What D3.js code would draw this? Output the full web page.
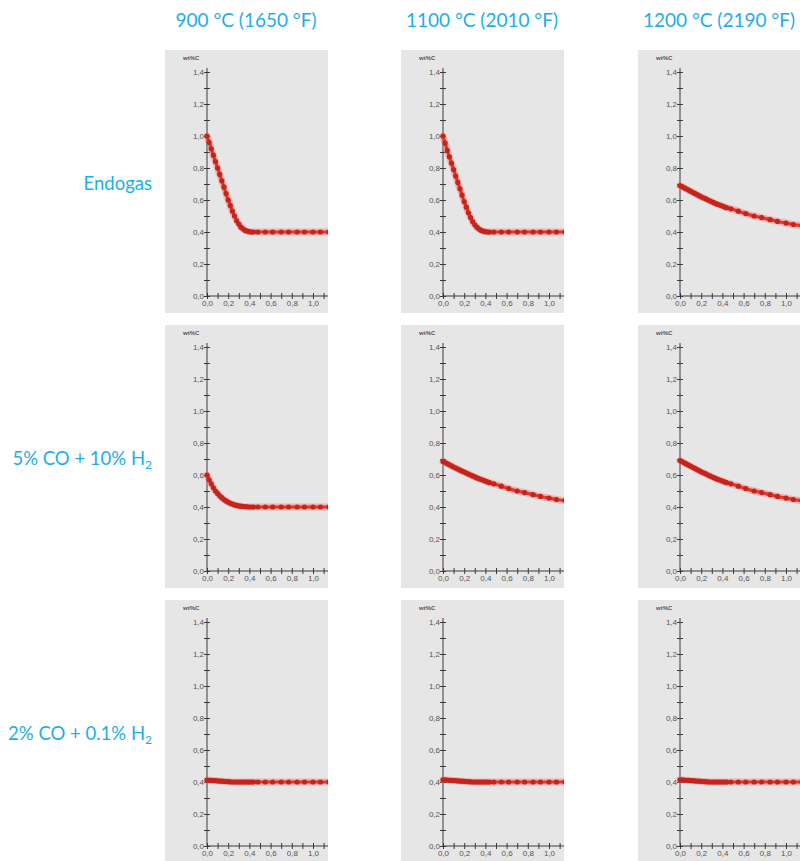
<!DOCTYPE html>
<html>
<head>
<meta charset="utf-8">
<script src="https://cdn.jsdelivr.net/npm/d3@7"></script>
<style>
  body { margin: 0; background: #fff; }
  svg { display: block; }
</style>
</head>
<body>
<div class="chart"></div>
<script>

// column and row titles
const columnTitles = ["900 °C (1650 °F)", "1100 °C (2010 °F)", "1200 °C (2190 °F)"];
const rowTitles = [["Endogas", ""], ["5% CO + 10% H", "2"], ["2% CO + 0.1% H", "2"]];

// depth below surface (mm) of the plotted points
const depth = [0.00,0.02,0.04,0.06,0.08,0.10,0.12,0.14,0.16,0.18,0.20,0.22,0.24,0.26,0.28,0.30,
               0.32,0.34,0.36,0.38,0.40,0.42,0.44,0.48,0.55,0.62,0.70,0.77,0.85,0.92,1.00,1.07,1.15];

// carbon content wt%C
const endo900  = [1.00,0.96,0.92,0.88,0.84,0.80,0.76,0.72,0.68,0.64,0.60,0.565,0.53,0.50,0.47,0.45,
                  0.43,0.42,0.41,0.405,0.402,0.40,0.40,0.40,0.40,0.40,0.40,0.40,0.40,0.40,0.40,0.40,0.40];
const endo1100 = [1.00,0.955,0.91,0.87,0.83,0.79,0.75,0.71,0.67,0.63,0.59,0.555,0.52,0.49,0.465,0.445,
                  0.43,0.418,0.41,0.405,0.402,0.40,0.40,0.40,0.40,0.40,0.40,0.40,0.40,0.40,0.40,0.40,0.40];
const endo1200 = [0.69,0.683,0.676,0.669,0.662,0.655,0.648,0.641,0.634,0.627,0.62,0.614,0.608,0.601,0.595,0.589,
                  0.583,0.577,0.572,0.567,0.562,0.557,0.552,0.545,0.53,0.515,0.50,0.49,0.477,0.466,0.456,0.447,0.44];
const co5_900  = [0.60,0.57,0.545,0.52,0.50,0.485,0.47,0.458,0.447,0.438,0.43,0.423,0.418,0.413,0.41,0.407,
                  0.405,0.403,0.402,0.401,0.40,0.40,0.40,0.40,0.40,0.40,0.40,0.40,0.40,0.40,0.40,0.40,0.40];
const co5_1100 = [0.685,0.678,0.671,0.664,0.657,0.650,0.643,0.637,0.630,0.624,0.618,0.612,0.606,0.600,0.594,0.588,
                  0.582,0.577,0.572,0.567,0.562,0.557,0.552,0.545,0.53,0.515,0.50,0.49,0.477,0.466,0.456,0.447,0.44];
const co5_1200 = [0.69,0.683,0.676,0.669,0.662,0.655,0.648,0.641,0.634,0.627,0.62,0.614,0.608,0.601,0.595,0.589,
                  0.583,0.577,0.572,0.567,0.562,0.557,0.552,0.545,0.53,0.515,0.50,0.49,0.477,0.466,0.456,0.447,0.44];
const co2_900  = [0.412,0.411,0.41,0.409,0.408,0.407,0.406,0.405,0.404,0.403,0.402,0.401,0.40,0.40,0.40,0.40,
                  0.40,0.40,0.40,0.40,0.40,0.40,0.40,0.40,0.40,0.40,0.40,0.40,0.40,0.40,0.40,0.40,0.40];
const co2_1100 = [0.414,0.413,0.412,0.411,0.41,0.409,0.408,0.407,0.406,0.405,0.404,0.403,0.402,0.401,0.40,0.40,
                  0.40,0.40,0.40,0.40,0.40,0.40,0.40,0.40,0.40,0.40,0.40,0.40,0.40,0.40,0.40,0.40,0.40];
const co2_1200 = [0.414,0.413,0.412,0.411,0.41,0.409,0.408,0.407,0.406,0.405,0.404,0.403,0.402,0.401,0.40,0.40,
                  0.40,0.40,0.40,0.40,0.40,0.40,0.40,0.40,0.40,0.40,0.40,0.40,0.40,0.40,0.40,0.40,0.40];

const grid = [
    [endo900, endo1100, endo1200],
    [co5_900, co5_1100, co5_1200],
    [co2_900, co2_1100, co2_1200]
];

// ticks
const yTicks = [0,0.1,0.2,0.3,0.4,0.5,0.6,0.7,0.8,0.9,1.0,1.1,1.2,1.3,1.4];
const yLabels = [0,0.2,0.4,0.6,0.8,1.0,1.2,1.4];
const xTicks = [0,0.1,0.2,0.3,0.4,0.5,0.6,0.7,0.8,0.9,1.0,1.1,1.2];
const xLabels = [0,0.2,0.4,0.6,0.8,1.0,1.2];

const width = 800, height = 861;
const panelX = [165, 401, 638];
const panelY = [50, 325, 600];
const panelW = 163, panelH = 263;
const blue = "#1eaee6";

const svg = d3.select(".chart")
    .append("svg")
    .attr("width", width)
    .attr("height", height);

const fmt = v => d3.format(".1f")(v).replace(".", ",");

// column titles
svg.selectAll(".coltitle")
    .data(columnTitles)
    .enter()
    .append("text")
    .attr("x", (d,i) => panelX[i] + 81)
    .attr("y", 27)
    .attr("text-anchor","middle")
    .attr("fill", blue)
    .style("font-family","Lato, 'Open Sans', sans-serif")
    .style("font-size","19px")
    .text(d => d);

// row titles
const rt = svg.selectAll(".rowtitle")
    .data(rowTitles)
    .enter()
    .append("text")
    .attr("x", 152)
    .attr("y", (d,i) => panelY[i] + 140)
    .attr("text-anchor","end")
    .attr("fill", blue)
    .style("font-family","Lato, 'Open Sans', sans-serif")
    .style("font-size","18.5px");

rt.append("tspan").text(d => d[0]);
rt.append("tspan")
    .attr("dy", 4)
    .style("font-size","12px")
    .text(d => d[1]);

const x = d3.scaleLinear().domain([0, 1]).range([0, 106]);
const y = d3.scaleLinear().domain([0, 1.4]).range([246, 22]);

const line = d3.line()
    .x((d,i) => x(depth[i]))
    .y(d => y(d))
    .curve(d3.curveMonotoneX);

grid.forEach((row, r) => {
    row.forEach((values, c) => {

        const id = "clip" + r + c;
        const w = Math.min(panelW, width - panelX[c]);
        const h = Math.min(panelH, height - panelY[r]);

        svg.append("clipPath")
            .attr("id", id)
            .append("rect")
            .attr("x", 0)
            .attr("y", 0)
            .attr("width", w)
            .attr("height", h);

        const g = svg.append("g")
            .attr("transform", `translate(${panelX[c]},${panelY[r]})`)
            .attr("clip-path", `url(#${id})`);

        g.append("rect")
            .attr("width", w)
            .attr("height", h)
            .attr("fill","#e6e6e6");

        const inner = g.append("g")
            .attr("transform", "translate(42,0)");

        // y axis
        const ya = inner.append("g")
            .call(d3.axisLeft(y).tickValues(yTicks).tickSize(4)
                .tickFormat(v => yLabels.some(l => Math.abs(l - v) < 1e-6) ? fmt(v) : ""));

        ya.selectAll(".tick line").attr("x1", -3).attr("x2", 3);
        ya.select(".domain").attr("d", `M0,${y(0)}V${y(1.4) - 4}`);

        // x axis
        const xa = inner.append("g")
            .attr("transform", `translate(0,${y(0)})`)
            .call(d3.axisBottom(x).tickValues(xTicks).tickSize(4)
                .tickFormat(v => xLabels.some(l => Math.abs(l - v) < 1e-6) ? fmt(v) : ""));

        xa.selectAll(".tick line").attr("y1", -3).attr("y2", 3);
        xa.select(".domain").attr("d", `M0,0H${panelW}`);

        [ya, xa].forEach(a => {
            a.selectAll("line, path").attr("stroke","#3a3a3a").attr("stroke-width",1);
            a.selectAll("text")
                .attr("fill","#555")
                .style("font-family","'Liberation Sans', Arial, sans-serif")
                .style("font-size","8px");
        });
        ya.selectAll("text").attr("x", -3);
        xa.selectAll("text").attr("y", 4);

        inner.append("text")
            .attr("x", -24)
            .attr("y", 10)
            .attr("fill","#555")
            .style("font-family","'Liberation Sans', Arial, sans-serif")
            .style("font-size","6px")
            .style("font-weight","bold")
            .text("wt%C");

        // curve
        inner.append("path")
            .datum(values)
            .attr("d", line)
            .attr("fill","none")
            .attr("stroke","#f07a70")
            .attr("stroke-width",7)
            .attr("stroke-opacity",0.45)
            .attr("stroke-linecap","round");

        inner.append("path")
            .datum(values)
            .attr("d", line)
            .attr("fill","none")
            .attr("stroke","#e2392e")
            .attr("stroke-width",3.2)
            .attr("stroke-linecap","round");

        inner.selectAll(".dot")
            .data(values)
            .enter()
            .append("circle")
            .attr("cx", (d,i) => x(depth[i]))
            .attr("cy", d => y(d))
            .attr("r", 2.6)
            .attr("fill","#c4241d");
    });
});

</script>
</body>
</html>
